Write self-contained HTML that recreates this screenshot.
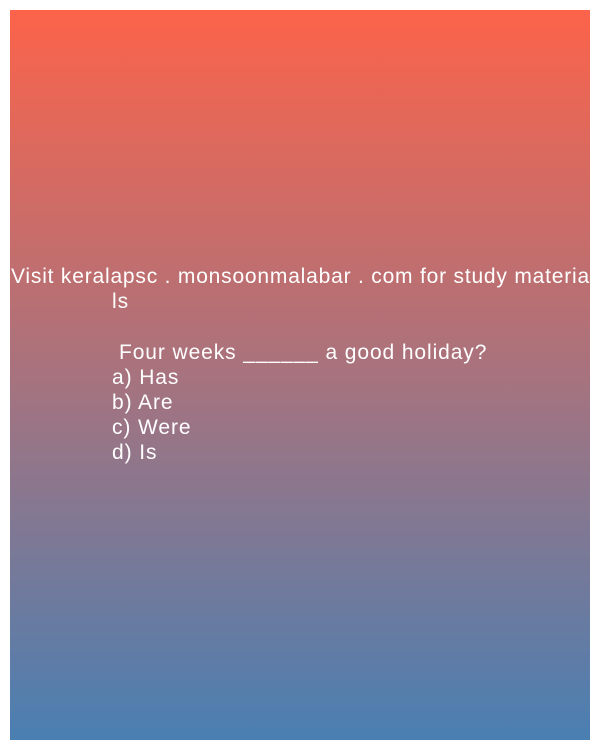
<!DOCTYPE html>
<html><head><meta charset="utf-8"><style>
html,body{margin:0;padding:0;background:#fff;width:600px;height:750px;overflow:hidden}
#card{position:absolute;left:10px;top:10px;width:580px;height:730px;background:linear-gradient(to bottom,#fc634a 0%,#a7737e 50%,#4a7fb2 100%)}
.t{position:absolute;color:#fff;font-family:"Liberation Sans",sans-serif;font-size:21px;line-height:25px;white-space:pre;letter-spacing:0.9px}
</style></head><body>
<div id="card">
<div class="t" style="left:1px;top:254px;letter-spacing:0.8px">Visit keralapsc . monsoonmalabar . com for study materia</div>
<div class="t" style="left:102px;top:279px">ls</div>
<div class="t" style="left:109px;top:330px">Four weeks ______ a good holiday?</div>
<div class="t" style="left:102px;top:355px">a) Has</div>
<div class="t" style="left:102px;top:380px">b) Are</div>
<div class="t" style="left:102px;top:405px">c) Were</div>
<div class="t" style="left:102px;top:430px">d) Is</div>
</div>
</body></html>
